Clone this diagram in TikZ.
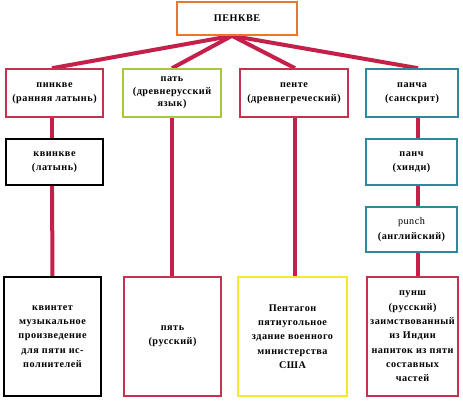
\documentclass[tikz,border=0pt]{standalone}
\usepackage{fontspec}
\setmainfont{Liberation Serif}[LetterSpace=5]
\usetikzlibrary{backgrounds}
\definecolor{crim}{HTML}{C4204A}
\definecolor{orng}{HTML}{E8782E}
\definecolor{lgrn}{HTML}{A8C83C}
\definecolor{teal}{HTML}{2E8A9A}
\definecolor{yelw}{HTML}{F2EA2E}
\definecolor{redb}{HTML}{C83050}
\tikzset{
  box/.style={draw, line width=1.6pt, fill=white, rectangle, align=center, inner sep=0pt,
    font=\fontsize{10.2}{14.3}\selectfont\bfseries},
  link/.style={crim, line width=4pt},
}
\begin{document}
\begin{tikzpicture}[x=1pt,y=-1pt]
\useasboundingbox (0,0) rectangle (463,400);
\node[box, draw=orng, minimum width=120pt, minimum height=33pt] (top) at (237,18.5) {ПЕНКВЕ};
\node[box, draw=redb, minimum width=97pt, minimum height=48pt] (a1) at (54.5,93) {пинкве\\(ранняя латынь)};
\node[box, draw=lgrn, minimum width=98pt, minimum height=48pt, font=\fontsize{10.2}{12.5}\selectfont\bfseries] (b1) at (172,93) {пать\\(древнерусский\\язык)};
\node[box, draw=redb, minimum width=108pt, minimum height=48pt] (c1) at (294,93) {пенте\\(древнегреческий)};
\node[box, draw=teal, minimum width=92pt, minimum height=48pt] (d1) at (412,93) {панча\\(санскрит)};
\node[box, draw=black, minimum width=97pt, minimum height=46pt] (a2) at (54.5,162) {квинкве\\(латынь)};
\node[box, draw=teal, minimum width=91pt, minimum height=46pt] (d2) at (411.5,162) {панч\\(хинди)};
\node[box, draw=teal, minimum width=91pt, minimum height=45pt] (d3) at (411.5,229.5) {{\mdseries punch}\\(английский)};
\node[box, draw=black, minimum width=97pt, minimum height=119pt] (a3) at (52.5,336.5) {квинтет\\музыкальное\\произведение\\для пяти ис-\\полнителей};
\node[box, draw=redb, minimum width=97pt, minimum height=119pt] (b3) at (172.5,336.5) {пять\\(русский)};
\node[box, draw=yelw, minimum width=109pt, minimum height=119pt] (c3) at (292.5,336.5) {Пентагон\\пятиугольное\\здание военного\\министерства\\США};
\node[box, draw=redb, minimum width=91pt, minimum height=119pt] (d3b) at (412.5,336.5) {пунш\\(русский)\\заимствованный\\из Индии\\напиток из пяти\\составных\\частей};
\coordinate (hub) at ([xshift=-5pt]top.south);
\begin{scope}[on background layer]
\fill[white] (0,0) rectangle (463,400);
\draw[link] (hub) -- ([xshift=-2.5pt]a1.north);
\draw[link] (hub) -- (b1.north);
\draw[link] (hub) -- ([xshift=1pt]c1.north);
\draw[link] (hub) -- ([xshift=6pt]d1.north);
\draw[link] ([xshift=-2.5pt]a1.south) -- ([xshift=-2.5pt]a2.north);
\draw[link] ([xshift=-2.5pt]a2.south) -- (a3.north);
\draw[link] (b1.south) -- ([xshift=-0.5pt]b3.north);
\draw[link] ([xshift=1pt]c1.south) -- ([xshift=2.5pt]c3.north);
\draw[link] ([xshift=6pt]d1.south) -- ([xshift=6.5pt]d2.north);
\draw[link] ([xshift=6.5pt]d2.south) -- ([xshift=6.5pt]d3.north);
\draw[link] ([xshift=6.5pt]d3.south) -- ([xshift=5.5pt]d3b.north);
\end{scope}
\end{tikzpicture}
\end{document}
